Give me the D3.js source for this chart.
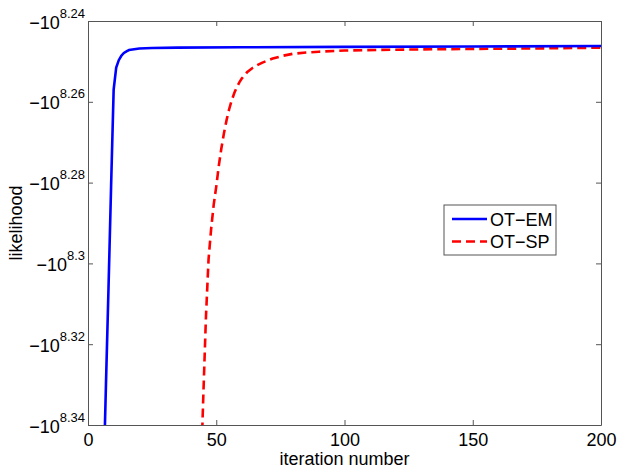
<!DOCTYPE html>
<html>
<head>
<meta charset="utf-8">
<script src="https://cdn.jsdelivr.net/npm/d3@7"></script>
<style>
  body { margin: 0; background: #fff; }
  svg text { font-family: Arial, "Liberation Sans", sans-serif; fill: #000; }
</style>
</head>
<body>
<div id="chart"></div>
<script>
// values are log10(-likelihood)
const emIter = [6, 7, 8, 9, 10, 11, 12, 13, 14, 15, 16, 18, 20, 25, 35, 60, 100, 150, 200];
const emLik  = [8.355, 8.330, 8.306, 8.281, 8.257, 8.2515, 8.2497, 8.2486, 8.2479, 8.2475, 8.2472,
                8.2470, 8.2468, 8.2467, 8.2466, 8.2465, 8.2464, 8.2463, 8.2462];

const spIter = [44, 45, 46, 47, 48, 49, 50, 51, 52, 53, 54, 55, 56, 57, 58, 59, 60, 62, 64, 66, 68,
                70, 72, 76, 80, 85, 90, 100, 120, 150, 175, 200];
const spLik  = [8.352, 8.332, 8.313, 8.299, 8.2915, 8.2855, 8.281, 8.2758, 8.2715, 8.2678, 8.2646, 8.2619,
                8.2597, 8.2579, 8.2564, 8.2552, 8.2542, 8.2527, 8.2517, 8.2509, 8.2503, 8.2498, 8.2493,
                8.2486, 8.2481, 8.2478, 8.2476, 8.2473, 8.2471, 8.2469, 8.2468, 8.2466];

const xTicks = [0, 50, 100, 150, 200];
const yTicks = [8.24, 8.26, 8.28, 8.3, 8.32, 8.34];
const yTickLabels = ["8.24", "8.26", "8.28", "8.3", "8.32", "8.34"];
const seriesNames = ["OT\u2212EM", "OT\u2212SP"];

const W = 624, H = 473;
const pLeft = 88, pRight = 601, pTop = 21, pBottom = 425;
const axisColor = "#555";

const svg = d3.select("#chart").append("svg")
    .attr("width", W)
    .attr("height", H);

const x = d3.scaleLinear().domain([0, 200]).range([pLeft, pRight]);
const y = d3.scaleLinear().domain([8.34, 8.24]).range([pBottom, pTop]);

svg.append("defs").append("clipPath").attr("id", "plot-clip")
    .append("rect")
    .attr("x", pLeft).attr("y", pTop)
    .attr("width", pRight - pLeft).attr("height", pBottom - pTop);

// lines
const line = d3.line()
    .x(d => x(d[0]))
    .y(d => y(d[1]));

const emData = emIter.map((it, i) => [it, emLik[i]]);
const spData = spIter.map((it, i) => [it, spLik[i]]);

const lines = svg.append("g").attr("clip-path", "url(#plot-clip)");

lines.append("path")
    .datum(spData)
    .attr("d", line)
    .attr("fill", "none")
    .attr("stroke", "#ff0000")
    .attr("stroke-width", 2.6)
    .attr("stroke-dasharray", "9,5");

lines.append("path")
    .datum(emData)
    .attr("d", line)
    .attr("fill", "none")
    .attr("stroke", "#0000ff")
    .attr("stroke-width", 2.6);

// axes (ticks point inward, box all round)
const styleAxis = g => {
    g.selectAll("path.domain").attr("stroke", axisColor);
    g.selectAll(".tick line").attr("stroke", axisColor);
};

svg.append("g")
    .attr("transform", `translate(0,${pBottom})`)
    .call(d3.axisBottom(x).tickValues(xTicks).tickSizeInner(-5).tickSizeOuter(0).tickPadding(8))
    .call(styleAxis)
    .call(g => g.selectAll(".tick text").attr("font-size", 18).attr("fill", "#000"));

svg.append("g")
    .attr("transform", `translate(0,${pTop})`)
    .call(d3.axisTop(x).tickValues(xTicks).tickSizeInner(-5).tickSizeOuter(0).tickFormat(""))
    .call(styleAxis);

svg.append("g")
    .attr("transform", `translate(${pRight},0)`)
    .call(d3.axisRight(y).tickValues(yTicks).tickSizeInner(-5).tickSizeOuter(0).tickFormat(""))
    .call(styleAxis);

const yAxis = svg.append("g")
    .attr("transform", `translate(${pLeft},0)`)
    .call(d3.axisLeft(y).tickValues(yTicks).tickSizeInner(-5).tickSizeOuter(0).tickFormat(""))
    .call(styleAxis);

yAxis.selectAll(".tick").each(function (d, i) {
    const t = d3.select(this).append("text")
        .attr("x", -3)
        .attr("y", 7)
        .attr("text-anchor", "end")
        .attr("fill", "#000");
    t.append("tspan").attr("font-size", 18).text("\u221210");
    t.append("tspan").attr("font-size", 13).attr("dy", -11).text(yTickLabels[i]);
});

// axis labels
svg.append("text")
    .attr("x", (pLeft + pRight) / 2)
    .attr("y", 465)
    .attr("text-anchor", "middle")
    .attr("font-size", 18)
    .text("iteration number");

svg.append("text")
    .attr("transform", `translate(22,${(pTop + pBottom) / 2}) rotate(-90)`)
    .attr("text-anchor", "middle")
    .attr("font-size", 18)
    .text("likelihood");

// legend
const legend = svg.append("g").attr("transform", "translate(444,205)");
legend.append("rect")
    .attr("width", 112).attr("height", 50)
    .attr("fill", "#fff")
    .attr("stroke", axisColor);

const legendStyles = [
    { color: "#0000ff", dash: null },
    { color: "#ff0000", dash: "9,5" }
];

seriesNames.forEach((name, i) => {
    const yy = 14 + i * 22.5;
    legend.append("line")
        .attr("x1", 8).attr("x2", 43)
        .attr("y1", yy).attr("y2", yy)
        .attr("stroke", legendStyles[i].color)
        .attr("stroke-width", 2.6)
        .attr("stroke-dasharray", legendStyles[i].dash);
    legend.append("text")
        .attr("x", 46)
        .attr("y", yy + 6.5)
        .attr("font-size", 18)
        .text(name);
});
</script>
</body>
</html>
